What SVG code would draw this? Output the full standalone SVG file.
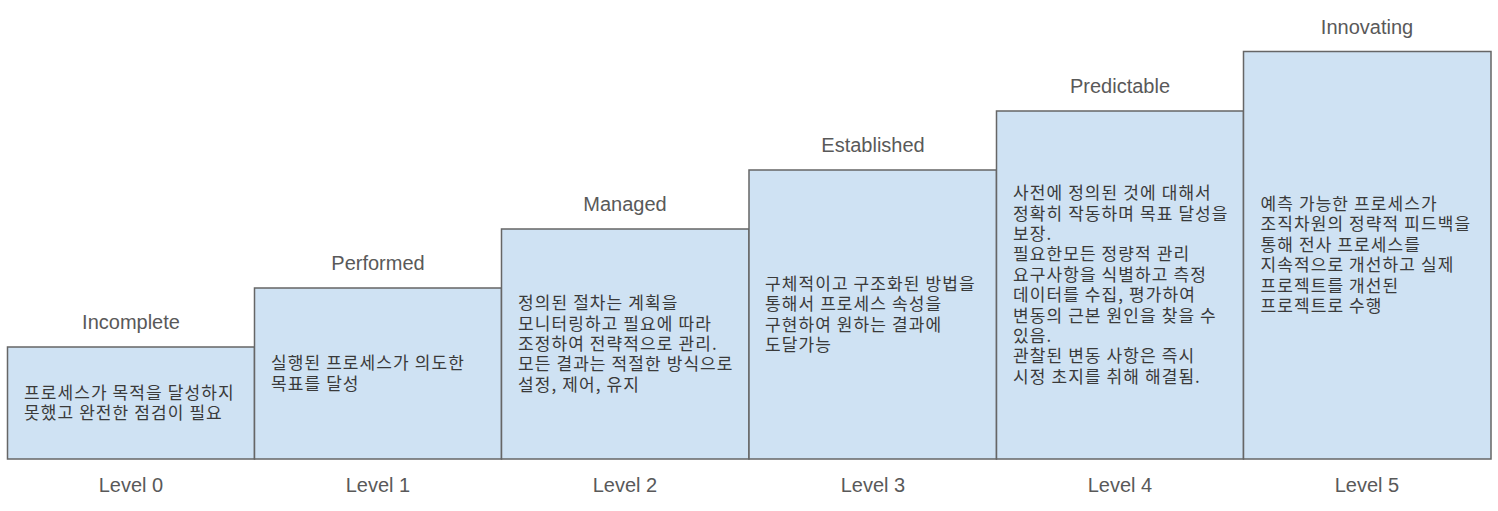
<svg xmlns="http://www.w3.org/2000/svg" width="1498" height="511" viewBox="0 0 1498 511">
<style>
.box{fill:#cfe2f3;stroke:#666666;stroke-width:1.5}
.title{font-family:"Liberation Sans",Arial,sans-serif;font-size:20px;fill:#595959;text-anchor:middle}
.body{font-family:"Noto Sans CJK KR","Liberation Sans",sans-serif;font-size:17px;letter-spacing:1.1px;fill:#3a3a3a}
</style>
<rect width="1498" height="511" fill="#ffffff"/>
<g id="level0">
<rect class="box" x="7.5" y="347" width="247" height="112"/>
<text class="title" x="131" y="329">Incomplete</text>
<text class="body" x="24" y="398.8"><tspan x="24">프로세스가 목적을 달성하지</tspan><tspan x="24" dy="20.4">못했고 완전한 점검이 필요</tspan></text>
<text class="title" x="131" y="492">Level 0</text>
</g>
<g id="level1">
<rect class="box" x="254.5" y="288" width="247" height="171"/>
<text class="title" x="378" y="270">Performed</text>
<text class="body" x="271" y="369.3"><tspan x="271">실행된 프로세스가 의도한</tspan><tspan x="271" dy="20.4">목표를 달성</tspan></text>
<text class="title" x="378" y="492">Level 1</text>
</g>
<g id="level2">
<rect class="box" x="501.5" y="229" width="247.5" height="230"/>
<text class="title" x="625" y="211">Managed</text>
<text class="body" x="518" y="309.2"><tspan x="518">정의된 절차는 계획을</tspan><tspan x="518" dy="20.4">모니터링하고 필요에 따라</tspan><tspan x="518" dy="20.4">조정하여 전략적으로 관리.</tspan><tspan x="518" dy="20.4">모든 결과는 적절한 방식으로</tspan><tspan x="518" dy="20.4">설정, 제어, 유지</tspan></text>
<text class="title" x="625" y="492">Level 2</text>
</g>
<g id="level3">
<rect class="box" x="749" y="170" width="247.5" height="289"/>
<text class="title" x="873" y="152">Established</text>
<text class="body" x="765" y="289.9"><tspan x="765">구체적이고 구조화된 방법을</tspan><tspan x="765" dy="20.4">통해서 프로세스 속성을</tspan><tspan x="765" dy="20.4">구현하여 원하는 결과에</tspan><tspan x="765" dy="20.4">도달가능</tspan></text>
<text class="title" x="873" y="492">Level 3</text>
</g>
<g id="level4">
<rect class="box" x="996.5" y="111" width="247" height="348"/>
<text class="title" x="1120" y="93">Predictable</text>
<text class="body" x="1013" y="199.2"><tspan x="1013">사전에 정의된 것에 대해서</tspan><tspan x="1013" dy="20.4">정확히 작동하며 목표 달성을</tspan><tspan x="1013" dy="20.4">보장.</tspan><tspan x="1013" dy="20.4">필요한모든 정량적 관리</tspan><tspan x="1013" dy="20.4">요구사항을 식별하고 측정</tspan><tspan x="1013" dy="20.4">데이터를 수집, 평가하여</tspan><tspan x="1013" dy="20.4">변동의 근본 원인을 찾을 수</tspan><tspan x="1013" dy="20.4">있음.</tspan><tspan x="1013" dy="20.4">관찰된 변동 사항은 즉시</tspan><tspan x="1013" dy="20.4">시정 초지를 취해 해결됨.</tspan></text>
<text class="title" x="1120" y="492">Level 4</text>
</g>
<g id="level5">
<rect class="box" x="1243.5" y="51.5" width="247.5" height="407.5"/>
<text class="title" x="1367" y="34">Innovating</text>
<text class="body" x="1260.5" y="210"><tspan x="1260.5">예측 가능한 프로세스가</tspan><tspan x="1260.5" dy="20.4">조직차원의 정략적 피드백을</tspan><tspan x="1260.5" dy="20.4">통해 전사 프로세스를</tspan><tspan x="1260.5" dy="20.4">지속적으로 개선하고 실제</tspan><tspan x="1260.5" dy="20.4">프로젝트를 개선된</tspan><tspan x="1260.5" dy="20.4">프로젝트로 수행</tspan></text>
<text class="title" x="1367" y="492">Level 5</text>
</g>
<g id="connectors"></g>
</svg>
